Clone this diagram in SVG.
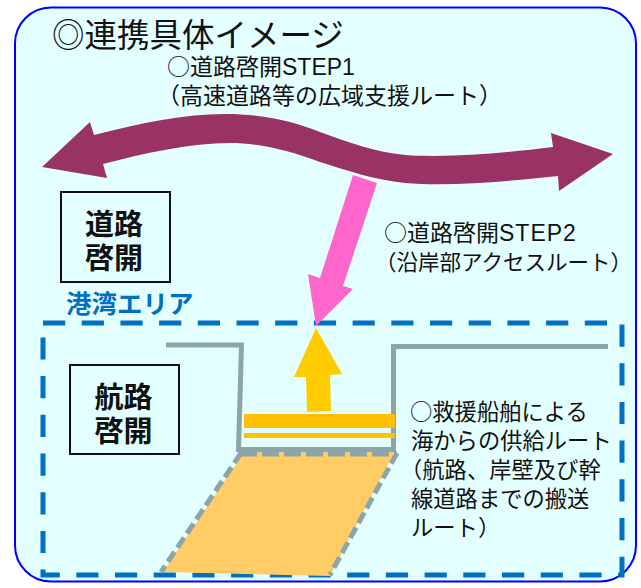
<svg xmlns="http://www.w3.org/2000/svg" width="641" height="588" viewBox="0 0 641 588">
<style>
text{font-family:"Liberation Sans","Noto Sans CJK JP",sans-serif;fill:#111}
.cjk{font-family:"Noto Sans CJK JP",sans-serif}
.l1{font-size:23px}
.l2{font-size:21.500px}
.l3{font-size:22.300px}
.box{fill:none;stroke:#111;stroke-width:2}
.big{font-size:29px;font-weight:700;text-anchor:middle}
.grey{fill:none;stroke:#8CA5A8;stroke-width:5}
</style>
<rect width="641" height="588" fill="#fff"/>
<rect id="panel" x="15" y="7.500" width="621" height="574" rx="36" fill="#E4FFFF" stroke="#0000FF" stroke-width="2"/>
<g id="harbor-area">
<rect x="43" y="323" width="579" height="252" fill="none" stroke="#0070C0" stroke-width="5" stroke-dasharray="22.200 16.500"/>
<text x="66" y="313" style="fill:#0070C0;font-size:25.500px;font-weight:700">港湾エリア</text>
</g>
<g id="port">
<path d="M245 451L395 451L330 576L163 572Z" fill="#FFCC66"/>
<path class="grey" d="M166 345H241.500L238.500 449.500H393.500V346.500H608"/>
<path class="grey" d="M241 453L161 572M397 453L330 575" stroke-dasharray="12 5"/>
<path class="grey" d="M240 454H397" stroke-dasharray="17 5"/>
<rect x="244" y="414" width="151" height="14" fill="#FFC000"/>
<rect x="244" y="433" width="151" height="5" fill="#FFC000"/>
</g>
<g id="connectors">
<path id="route-step1" fill="#993366" d="M42 167L90 122L94 135C140 123 185 114 225 114C265 114 295 122 320 132C350 143 375 152 405 155C450 158 505 153 553 147L551 133L613 154L559 191L558 176C510 181 450 187 405 183C375 180 345 170 320 162C290 151 260 143 230 143C190 143 145 153 103 164L107 178Z"/>
<path id="route-step2" fill="#FF66CC" d="M353 175L377 183L343 286L353 289L316 326L308 274L320 278Z"/>
<path id="route-sea" fill="#FFCC00" d="M316 328L342 374L330 375L331 411L307 412L306 377L294 377Z"/>
</g>
<g id="title"><text x="52" y="47" style="font-size:32.500px">◎連携具体イメージ</text></g>
<g id="label-step1">
<text class="l1" x="167" y="75"><tspan class="cjk">○</tspan>道路啓開STEP1</text>
<text class="l1" x="157" y="104">（高速道路等の広域支援ルート）</text>
</g>
<g id="label-step2">
<text class="l1" x="384" y="241"><tspan class="cjk">○</tspan>道路啓開<tspan letter-spacing="1">STEP2</tspan></text>
<text class="l2" x="375" y="270">（沿岸部アクセスルート）</text>
</g>
<g id="label-sea">
<text class="l3" x="410" y="420"><tspan class="cjk">○</tspan>救援船舶による</text>
<text class="l3" x="411" y="449">海からの供給ルート</text>
<text class="l3" x="400" y="478">（航路、岸壁及び幹</text>
<text class="l3" x="411" y="507">線道路までの搬送</text>
<text class="l3" x="411" y="536">ルート）</text>
</g>
<g id="node-road">
<rect class="box" x="61" y="192" width="109" height="90"/>
<text class="big" x="114" y="235">道路</text>
<text class="big" x="114" y="269">啓開</text>
</g>
<g id="node-sea">
<rect class="box" x="70" y="365" width="109" height="89"/>
<text class="big" x="123.500" y="408">航路</text>
<text class="big" x="123.500" y="442">啓開</text>
</g>
</svg>
